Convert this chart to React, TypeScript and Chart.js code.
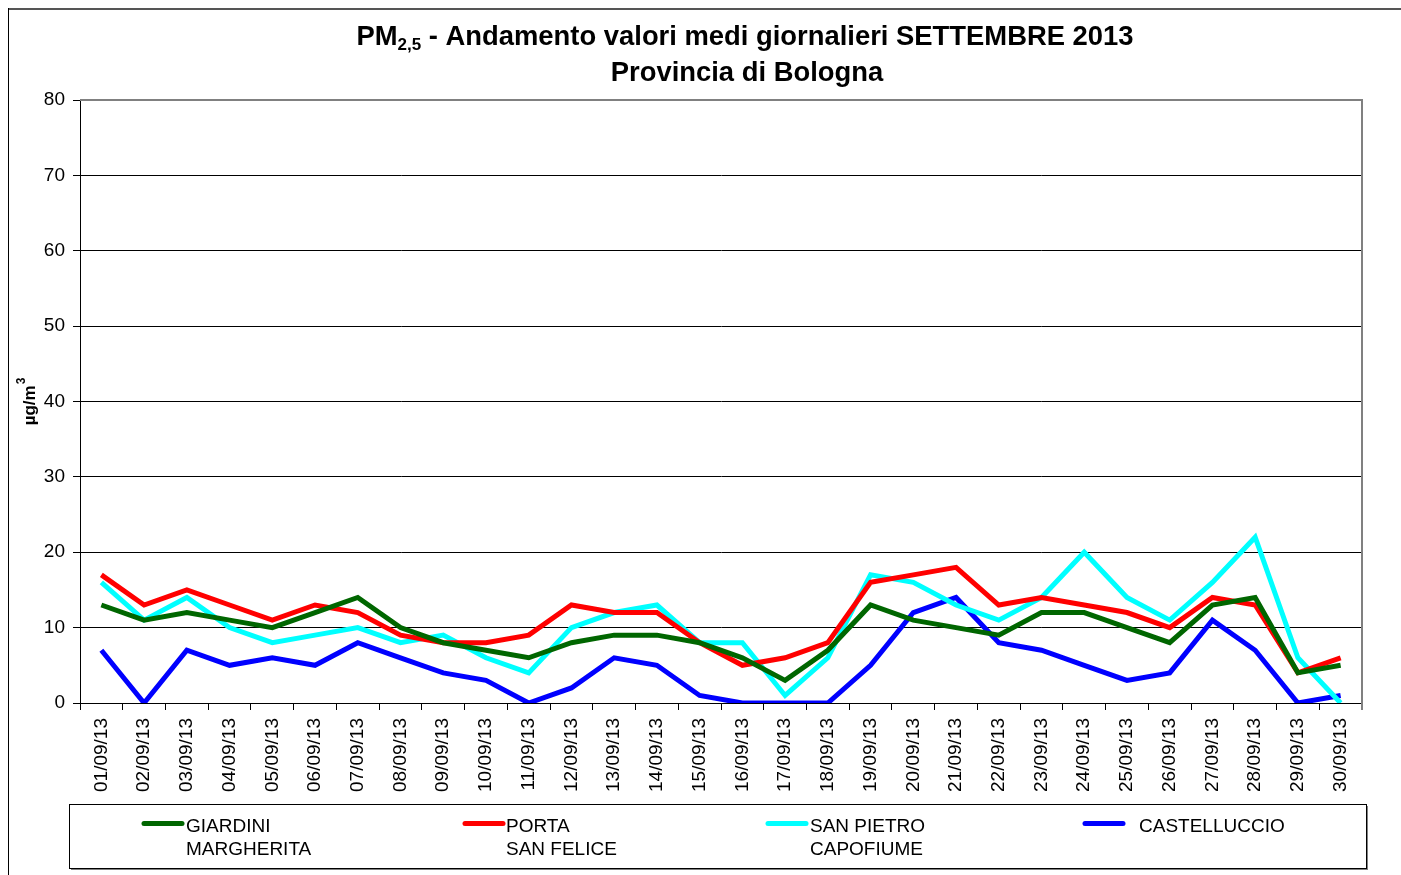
import React, { useEffect, useRef } from "react";
import { Chart, registerables } from "chart.js";

Chart.register(...registerables);

const categories = [
  "01/09/13", "02/09/13", "03/09/13", "04/09/13", "05/09/13", "06/09/13", "07/09/13", "08/09/13", "09/09/13", "10/09/13",
  "11/09/13", "12/09/13", "13/09/13", "14/09/13", "15/09/13", "16/09/13", "17/09/13", "18/09/13", "19/09/13", "20/09/13",
  "21/09/13", "22/09/13", "23/09/13", "24/09/13", "25/09/13", "26/09/13", "27/09/13", "28/09/13", "29/09/13", "30/09/13",
];

const giardiniMargherita = [13, 11, 12, 11, 10, 12, 14, 10, 8, 7, 6, 8, 9, 9, 8, 6, 3, 7, 13, 11, 10, 9, 12, 12, 10, 8, 13, 14, 4, 5];
const portaSanFelice = [17, 13, 15, 13, 11, 13, 12, 9, 8, 8, 9, 13, 12, 12, 8, 5, 6, 8, 16, 17, 18, 13, 14, 13, 12, 10, 14, 13, 4, 6];
const sanPietroCapofiume = [16, 11, 14, 10, 8, 9, 10, 8, 9, 6, 4, 10, 12, 13, 8, 8, 1, 6, 17, 16, 13, 11, 14, 20, 14, 11, 16, 22, 6, 0];
const castelluccio = [7, 0, 7, 5, 6, 5, 8, 6, 4, 3, 0, 2, 6, 5, 1, 0, 0, 0, 5, 12, 14, 8, 7, 5, 3, 4, 11, 7, 0, 1];

const seriesLabels = ["GIARDINI MARGHERITA", "PORTA SAN FELICE", "SAN PIETRO CAPOFIUME", "CASTELLUCCIO"];
const legendLines = [["GIARDINI", "MARGHERITA"], ["PORTA", "SAN FELICE"], ["SAN PIETRO", "CAPOFIUME"], ["CASTELLUCCIO"]];
const seriesColors = ["#006600", "#FF0000", "#00FFFF", "#0000FF"];

const yTicks = [0, 10, 20, 30, 40, 50, 60, 70, 80];

const titleMain = "PM";
const titleSub = "2,5";
const titleRest = " - Andamento valori medi giornalieri SETTEMBRE 2013";
const titleLine2 = "Provincia di Bologna";
const yTitleMain = "µg/m";
const yTitleSup = "3";

const FONT = "'Liberation Sans', Arial, Helvetica, sans-serif";
const W = 1393;
const H = 867;

const decorPlugin = {
  id: "decor",
  beforeDatasetsDraw(chart: any) {
    const { ctx, chartArea } = chart;
    ctx.save();
    ctx.fillStyle = "#808080";
    ctx.fillRect(chartArea.left, chartArea.top - 1, chartArea.right - chartArea.left + 1, 2);
    ctx.fillRect(chartArea.right - 1, chartArea.top - 1, 2, chartArea.bottom - chartArea.top + 8);
    ctx.restore();
  },
  afterDraw(chart: any) {
    const { ctx } = chart;
    ctx.save();
    // outer frame
    ctx.fillStyle = "#555";
    ctx.fillRect(0, 0, W, 2);
    ctx.fillStyle = "#000";
    ctx.fillRect(0, 0, 1, H);

    // title
    ctx.fillStyle = "#000";
    ctx.textBaseline = "alphabetic";
    ctx.textAlign = "left";
    const big = `bold 27.4px ${FONT}`;
    const small = `bold 17px ${FONT}`;
    ctx.font = big;
    const wMain = ctx.measureText(titleMain).width;
    const wRest = ctx.measureText(titleRest).width;
    ctx.font = small;
    const wSub = ctx.measureText(titleSub).width;
    const cx = 737;
    let x = cx - (wMain + wSub + wRest) / 2;
    const b1 = 37;
    ctx.font = big;
    ctx.fillText(titleMain, x, b1);
    x += wMain;
    ctx.font = small;
    ctx.fillText(titleSub, x, b1 + 5);
    x += wSub;
    ctx.font = big;
    ctx.fillText(titleRest, x, b1);
    ctx.textAlign = "center";
    ctx.fillText(titleLine2, cx + 2, 73);

    // y axis title
    ctx.save();
    ctx.translate(22, 394);
    ctx.rotate(-Math.PI / 2);
    ctx.textAlign = "left";
    ctx.textBaseline = "middle";
    ctx.font = `bold 17px ${FONT}`;
    const wy = ctx.measureText(yTitleMain).width;
    ctx.font = `bold 12px ${FONT}`;
    const ws = ctx.measureText(yTitleSup).width;
    const sx = -(wy + ws) / 2;
    ctx.font = `bold 17px ${FONT}`;
    ctx.fillText(yTitleMain, sx, 0);
    ctx.font = `bold 12px ${FONT}`;
    ctx.fillText(yTitleSup, sx + wy + 1, -8);
    ctx.restore();

    // legend
    const lx = 61, ly = 796, lw = 1297, lh = 64;
    ctx.fillStyle = "#808080";
    ctx.fillRect(lx + 2, ly + lh, lw, 2);
    ctx.fillRect(lx + lw, ly + 2, 2, lh);
    ctx.strokeStyle = "#000";
    ctx.lineWidth = 1;
    ctx.strokeRect(lx + 0.5, ly + 0.5, lw, lh);
    const sampleX = [134, 455, 758, 1075];
    const textX = [178, 498, 802, 1131];
    ctx.font = `19px ${FONT}`;
    ctx.textAlign = "left";
    ctx.textBaseline = "alphabetic";
    chart.data.datasets.forEach((ds: any, i: number) => {
      ctx.strokeStyle = ds.borderColor;
      ctx.lineWidth = 5;
      ctx.lineCap = "round";
      ctx.beginPath();
      ctx.moveTo(sampleX[i] + 2, 815.5);
      ctx.lineTo(sampleX[i] + 40, 815.5);
      ctx.stroke();
      ctx.fillStyle = "#000";
      legendLines[i].forEach((line, j) => {
        ctx.fillText(line, textX[i], 824 + j * 23);
      });
    });
    ctx.restore();
  },
};

export default function App() {
  const ref = useRef<HTMLCanvasElement | null>(null);
  useEffect(() => {
    if (!ref.current) return;
    const datasets = [giardiniMargherita, portaSanFelice, sanPietroCapofiume, castelluccio].map((d, i) => ({
      label: seriesLabels[i],
      data: d,
      borderColor: seriesColors[i],
      backgroundColor: seriesColors[i],
      borderWidth: 5,
      pointRadius: 0,
      tension: 0,
      fill: false,
    }));
    const chart = new Chart(ref.current, {
      type: "line",
      data: { labels: categories, datasets },
      plugins: [decorPlugin],
      options: {
        animation: false,
        responsive: false,
        devicePixelRatio: 1,
        layout: { padding: { top: 92, right: 39, bottom: 77, left: 0 } },
        plugins: { legend: { display: false }, title: { display: false }, tooltip: { enabled: false } },
        scales: {
          x: {
            type: "category",
            offset: true,
            grid: { display: true, drawOnChartArea: false, drawTicks: true, tickLength: 7, offset: true, color: "#000", lineWidth: 1 },
            border: { color: "#000", width: 1 },
            ticks: { color: "#000", font: { family: FONT, size: 19 }, maxRotation: 90, minRotation: 90, autoSkip: false, padding: 8 },
            afterFit: (s: any) => { s.height = 95; },
          },
          y: {
            min: 0,
            max: 80,
            afterBuildTicks: (s: any) => { s.ticks = yTicks.map((v) => ({ value: v })); },
            grid: { color: "#000", lineWidth: 1, tickLength: 7, drawTicks: true },
            border: { color: "#000", width: 1 },
            ticks: { color: "#000", font: { family: FONT, size: 19 }, padding: 8 },
            afterFit: (s: any) => { s.width = 72; },
          },
        },
      },
    });
    return () => chart.destroy();
  }, []);
  return (
    <div style={{ position: "fixed", left: 8, top: 8, width: W, height: H, overflow: "hidden", background: "#fff" }}>
      <canvas ref={ref} width={W} height={H} style={{ display: "block", width: W, height: H }} />
    </div>
  );
}
